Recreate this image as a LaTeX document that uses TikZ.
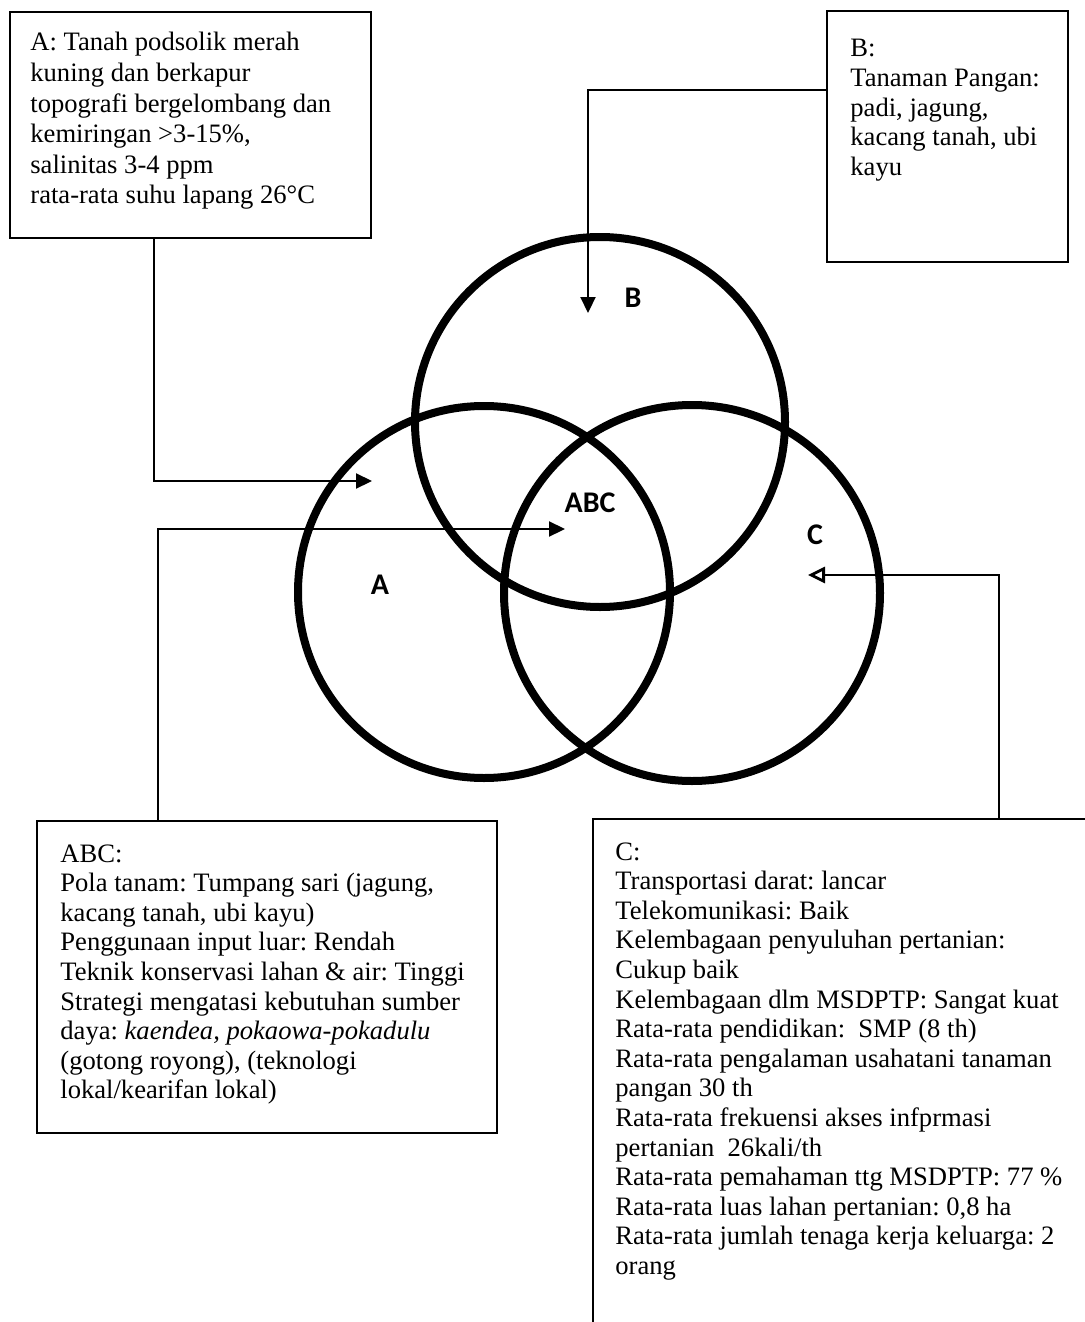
\documentclass[tikz,border=0pt]{standalone}
\usepackage{fontspec}
\setmainfont{Liberation Serif}
\newfontfamily\labfont{Carlito}
\usetikzlibrary{arrows.meta}
\frenchspacing
\begin{document}
\frenchspacing
\begin{tikzpicture}[x=0.5pt,y=-0.5pt,
  boxnode/.style={draw, line width=1pt, inner sep=0pt, outer sep=0pt, anchor=north west},
  txt/.style={anchor=north west, inner sep=0pt, align=left, font=\fontsize{13.3}{14.8}\selectfont\frenchspacing},
  txtA/.style={txt, font=\fontsize{13.3}{15.3}\selectfont\frenchspacing},
  conn/.style={line width=1.1pt, -{Triangle[length=8pt,width=7.5pt]}},
  connopen/.style={line width=1.1pt, -{Triangle[open,length=8.5pt,width=8pt,line width=1.4pt]}},
  venn/.style={draw, circle, line width=4pt, inner sep=0pt},
  lab/.style={font=\labfont\bfseries\fontsize{15}{15}\selectfont, inner sep=0pt}]
\useasboundingbox (0,0) rectangle (1085,1322);
\fill[white] (0,0) rectangle (1085,1322);
\clip (0,0) rectangle (1085,1322);

% circles
\node[venn, minimum size=186pt] (cA) at (484,592) {};
\node[venn, minimum size=185pt] (cB) at (600,422) {};
\node[venn, minimum size=188pt] (cC) at (692,593) {};

\node[lab] (lB) at (633,298) {B};
\node[lab] (lABC) at (590,503) {ABC};
\node[lab] (lC) at (815,535) {C};
\node[lab] (lA) at (380,585) {A};

% boxes
\node[boxnode, minimum width=180.5pt, minimum height=113pt] (boxA) at (10,12) {};
\node[boxnode, minimum width=120.5pt, minimum height=125.5pt] (boxB) at (827,11) {};
\node[boxnode, minimum width=230pt, minimum height=156pt] (boxABC) at (37,821) {};
\node[boxnode, minimum width=260pt, minimum height=260pt] (boxC) at (593,819) {};

% texts
\node[txtA] (tA) at (30,32) {A: Tanah podsolik merah\\
kuning dan berkapur\\
topografi bergelombang dan\\
kemiringan >3-15\%,\\
salinitas 3-4 ppm\\
rata-rata suhu lapang 26°C};

\node[txt] (tB) at (850,39) {B:\\
Tanaman Pangan:\\
padi, jagung,\\
kacang tanah, ubi\\
kayu};

\node[txt] (tABC) at (60,844) {ABC:\\
Pola tanam: Tumpang sari (jagung,\\
kacang tanah, ubi kayu)\\
Penggunaan input luar: Rendah\\
Teknik konservasi lahan \& air: Tinggi\\
Strategi mengatasi kebutuhan sumber\\
daya: \textit{kaendea, pokaowa-pokadulu}\\
(gotong royong), (teknologi\\
lokal/kearifan lokal)};

\node[txt] (tC) at (615,842) {C:\\
Transportasi darat: lancar\\
Telekomunikasi: Baik\\
Kelembagaan penyuluhan pertanian:\\
Cukup baik\\
Kelembagaan dlm MSDPTP: Sangat kuat\\
Rata-rata pendidikan:\ \ SMP (8 th)\\
Rata-rata pengalaman usahatani tanaman\\
pangan 30 th\\
Rata-rata frekuensi akses infprmasi\\
pertanian\ \ 26kali/th\\
Rata-rata pemahaman ttg MSDPTP: 77 \%\\
Rata-rata luas lahan pertanian: 0,8 ha\\
Rata-rata jumlah tenaga kerja keluarga: 2\\
orang};

% connectors
\coordinate (tipA) at (372,481);
\coordinate (tipB) at (588,313);
\coordinate (tipABC) at (565,529);
\coordinate (tipC) at (808,575);

\draw[conn] (boxA.south west) ++(144,0) |- (tipA);
\draw[conn] (boxB.north west) ++(0,79) -| (tipB);
\draw[conn] (boxABC.north west) ++(121,0) |- (tipABC);
\draw[connopen] (boxC.north west) ++(406,0) |- (tipC);
\end{tikzpicture}
\end{document}
